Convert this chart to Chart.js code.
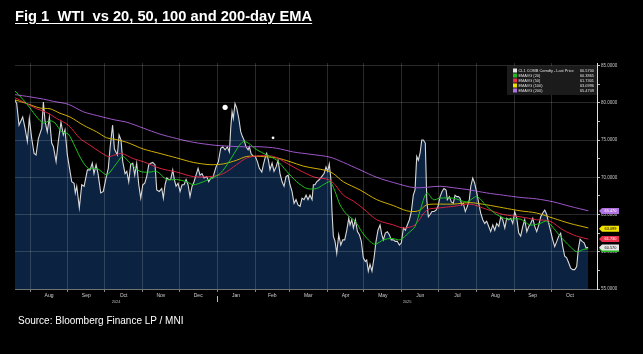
<!DOCTYPE html>
<html>
<head>
<meta charset="utf-8">
<title>WTI vs EMA</title>
<script src="https://cdn.jsdelivr.net/npm/chart.js@4.4.1/dist/chart.umd.min.js"></script>
<style>
  html, body { margin: 0; padding: 0; background: #000; }
  #wrap { position: relative; width: 643px; height: 354px; overflow: hidden; background: #000; }
  #wti { position: absolute; left: 0; top: 0; }
  #title {
    position: absolute; left: 15px; top: 9px; white-space: pre;
    font: bold 14.7px "Liberation Sans", Arial, sans-serif; line-height: 1;
    color: #fff; text-decoration: underline; text-underline-offset: 2px;
  }
  #source {
    position: absolute; left: 18px; top: 316px; white-space: pre;
    font: 10px "Liberation Sans", Arial, sans-serif; line-height: 1; color: #fff;
  }
</style>
</head>
<body>
<div id="wrap">
  <canvas id="wti" width="643" height="354"></canvas>
  <div id="title">Fig 1  WTI  vs 20, 50, 100 and 200-day EMA</div>
  <div id="source">Source: Bloomberg Finance LP / MNI</div>
</div>
<script>
// x values are calendar days counted from 1 Aug 2024
var monthLabels = ['Aug', 'Sep', 'Oct', 'Nov', 'Dec', 'Jan', 'Feb', 'Mar', 'Apr', 'May', 'Jun', 'Jul', 'Aug', 'Sep', 'Oct'];
var yearLabels = ['2024', '2025'];
var yTicks = [55, 57.5, 60, 62.5, 65, 67.5, 70, 72.5, 75, 77.5, 80, 82.5, 85];

var seriesNames = ['CL1 COMB Comdty - Last Price', 'EMAVG (20)', 'EMAVG (50)', 'EMAVG (100)', 'EMAVG (200)'];
var lastValues = ['60.5700', '60.3865', '61.7301', '63.0996', '65.4709'];

var priceDays = [-12.3, -10.9, -9.0, -6.0, -4.1, -2.2, -0.6, 1.4, 3.3, 4.9, 6.8, 9.6, 10.9, 12.3, 14.1, 15.8, 17.7, 19.1, 21.3, 23.1,
  25.3, 27.2, 28.6, 30.5, 32.7, 34.1, 36.0, 37.0, 38.2, 40.3, 42.3, 44.2, 46.9, 49.1, 50.9, 52.3, 54.0, 55.6, 57.8, 59.9,
  62.1, 64.0, 65.4, 67.5, 69.0, 71.4, 72.8, 74.4, 75.8, 77.7, 79.1, 80.7, 82.3, 84.0, 85.6, 87.2, 88.9, 90.5, 92.2, 93.8,
  95.4, 97.1, 98.7, 100.3, 102.2, 103.6, 105.7, 107.7, 109.0, 110.4, 111.8, 113.4, 115.0, 116.7, 118.0, 119.4, 121.0, 122.7, 124.3, 125.9,
  127.6, 129.2, 130.8, 132.5, 134.1, 135.7, 137.4, 139.0, 140.6, 142.3, 144.5, 146.1, 147.8, 149.4, 151.0, 152.1, 154.0, 155.9, 157.6, 159.5,
  161.3, 163.0, 164.1, 165.2, 166.2, 167.6, 169.0, 170.7, 172.3, 173.6, 175.0, 176.6, 178.3, 179.3, 180.7, 182.6, 184.2, 185.9, 187.5, 189.5,
  190.8, 192.2, 193.5, 194.9, 196.2, 197.9, 199.5, 201.2, 202.8, 204.4, 206.1, 207.7, 209.3, 211.0, 212.6, 214.2, 215.9, 217.5, 219.1, 220.8,
  222.4, 224.0, 225.7, 227.3, 228.9, 230.6, 231.7, 233.0, 234.4, 236.6, 238.5, 240.4, 242.0, 243.4, 244.7, 245.9, 246.9, 248.0, 249.4, 250.8,
  252.4, 254.1, 255.7, 257.3, 259.0, 260.6, 261.7, 263.1, 264.4, 266.0, 267.7, 269.3, 270.9, 272.5, 274.2, 275.3, 276.6, 278.0, 279.6, 281.3,
  282.9, 284.5, 286.2, 287.6, 288.9, 290.5, 292.2, 293.8, 295.4, 297.1, 298.7, 300.3, 302.0, 303.6, 305.3, 306.9, 308.5, 310.2, 311.8, 313.4,
  314.8, 316.2, 317.5, 318.9, 320.3, 321.6, 323.2, 324.4, 325.7, 327.1, 328.7, 330.4, 332.0, 333.6, 335.3, 336.9, 338.5, 340.2, 341.2, 342.9,
  344.5, 346.1, 347.5, 348.9, 350.2, 351.6, 353.0, 354.3, 355.9, 357.6, 359.2, 360.4, 362.0, 363.6, 365.3, 366.9, 368.5, 370.2, 371.8, 373.4,
  375.1, 376.7, 378.4, 380.0, 381.6, 383.3, 384.9, 386.5, 388.2, 389.8, 391.4, 393.1, 394.7, 396.3, 398.0, 399.6, 401.2, 402.9, 404.5, 406.2,
  407.8, 409.4, 411.1, 412.7, 414.3, 416.0, 417.6, 419.2, 420.9, 422.5, 424.1, 425.8, 427.4, 429.0, 430.7, 432.3, 433.9, 435.6, 437.2, 438.8,
  440.5, 442.1, 443.8, 445.4, 447.0, 448.3, 449.8, 451.4, 453.1, 454.7, 456.3];
var priceValues = [80.4, 79.9, 77.0, 78.1, 76.6, 74.8, 77.9, 75.2, 73.2, 73.0, 75.2, 76.6, 80.1, 77.5, 76.1, 78.1, 74.6, 74.1, 72.1, 74.8,
  77.4, 75.7, 76.4, 73.0, 70.8, 69.4, 69.2, 67.9, 68.8, 65.9, 69.0, 68.8, 71.0, 71.0, 71.9, 70.5, 71.7, 70.5, 67.9, 68.1,
  69.9, 71.2, 73.9, 77.0, 73.8, 73.0, 75.7, 75.0, 72.1, 70.5, 70.8, 69.4, 71.7, 71.9, 70.3, 71.9, 69.0, 67.2, 69.0, 69.2,
  70.1, 71.7, 71.9, 72.0, 71.7, 68.3, 68.1, 68.5, 67.2, 69.0, 69.9, 69.7, 69.7, 71.0, 69.7, 68.8, 69.2, 68.1, 69.0, 69.0,
  69.7, 69.0, 67.4, 68.8, 69.4, 70.3, 71.2, 70.3, 70.5, 69.9, 70.1, 69.4, 69.9, 69.9, 70.8, 71.4, 72.1, 73.9, 74.1, 73.7,
  74.1, 73.4, 76.6, 78.8, 77.9, 79.9, 79.3, 77.9, 76.1, 75.5, 75.0, 74.1, 73.7, 74.1, 73.2, 72.8, 72.8, 72.1, 71.2, 70.7,
  71.7, 72.6, 73.2, 72.3, 71.0, 71.9, 70.8, 71.4, 72.3, 70.5, 69.4, 68.8, 70.1, 70.3, 69.0, 68.1, 66.5, 67.0, 66.3, 66.1,
  67.2, 67.0, 67.6, 67.0, 67.6, 67.0, 69.0, 69.0, 69.4, 69.7, 70.1, 70.5, 71.4, 70.8, 71.8, 69.9, 65.4, 62.1, 61.4, 59.8,
  62.3, 60.9, 61.6, 61.6, 62.9, 64.5, 63.6, 64.3, 63.2, 64.3, 62.7, 62.3, 61.4, 59.2, 58.7, 58.9, 57.4, 58.3, 57.4, 59.2,
  61.4, 62.9, 63.6, 62.3, 61.6, 62.5, 62.7, 62.3, 61.6, 61.6, 61.4, 61.4, 60.9, 61.2, 63.2, 62.9, 63.6, 64.3, 65.4, 67.6,
  68.3, 72.8, 72.3, 73.2, 75.0, 75.0, 74.6, 67.0, 64.7, 65.0, 65.4, 65.4, 65.6, 66.1, 67.4, 68.1, 68.5, 68.3, 67.0, 67.4,
  66.7, 66.5, 67.6, 67.4, 67.4, 67.2, 66.3, 66.5, 65.4, 66.1, 67.0, 68.8, 69.9, 69.2, 67.9, 66.5, 65.2, 64.3, 63.8, 64.1,
  63.4, 62.7, 63.6, 62.9, 63.8, 63.4, 64.7, 64.3, 63.2, 64.5, 64.3, 64.5, 63.8, 65.4, 64.5, 62.5, 62.1, 63.4, 64.3, 62.7,
  63.4, 63.8, 64.5, 63.4, 62.7, 63.6, 64.7, 65.2, 65.6, 65.0, 63.8, 62.7, 61.6, 60.7, 61.4, 62.1, 62.5, 60.7, 59.4, 59.2,
  58.5, 57.8, 57.6, 57.6, 58.0, 60.3, 61.7, 61.4, 61.2, 60.5, 60.6];

var ema20Days = [-12.3, -5.5, 0, 5.5, 10.9, 16.4, 20.4, 25.9, 31.3, 36.8, 42.3, 47.7, 54.5, 62.7, 65.4, 70.9, 75.8, 81.8, 89.9, 98.1,
  103.6, 111.8, 120.0, 128.1, 133.5, 141.7, 147.2, 155.4, 163.5, 170.3, 174.4, 178.5, 185.4, 193.5, 201.7, 209.9, 218.1, 226.3, 234.4, 239.8,
  245.3, 249.4, 253.5, 259.0, 265.8, 271.2, 276.6, 282.1, 288.9, 295.8, 302.6, 309.3, 314.8, 318.9, 324.4, 329.8, 335.3, 346.1, 357.1, 365.3,
  373.4, 381.6, 389.8, 400.7, 408.9, 417.0, 422.5, 433.4, 441.6, 447.0, 452.4, 456.5];
var ema20Values = [81.6, 80.4, 79.3, 78.1, 77.3, 77.6, 77.3, 76.1, 75.8, 74.1, 72.3, 71.2, 71.2, 70.3, 70.7, 71.9, 72.8, 71.9, 70.8, 70.7,
  70.8, 69.7, 69.7, 69.4, 69.0, 69.4, 69.8, 70.5, 72.3, 74.1, 74.8, 74.6, 73.7, 73.0, 72.3, 70.8, 69.4, 68.5, 68.5, 69.0,
  69.4, 68.1, 66.3, 65.0, 64.1, 62.7, 61.6, 61.0, 61.6, 61.8, 61.6, 62.5, 63.4, 65.5, 67.9, 67.0, 67.2, 67.2, 66.7, 67.4,
  66.1, 65.0, 64.4, 64.4, 63.6, 63.8, 64.1, 62.1, 60.7, 60.0, 60.3, 60.4];

var ema50Days = [-12.3, -2.7, 5.5, 13.7, 21.8, 31.3, 40.9, 49.1, 57.2, 64.0, 69.5, 75.0, 84.5, 92.6, 106.3, 120.0, 133.5, 147.2, 158.1, 169.0,
  177.2, 188.1, 199.0, 209.9, 220.8, 233.0, 243.9, 249.4, 256.2, 264.4, 272.5, 283.5, 297.1, 305.3, 314.8, 324.4, 335.3, 346.1, 359.8, 373.4,
  387.0, 400.7, 414.3, 425.2, 436.1, 447.0, 456.5];
var ema50Values = [80.7, 79.9, 79.2, 78.7, 77.9, 77.0, 75.2, 74.3, 73.4, 72.8, 73.0, 73.2, 72.5, 72.1, 71.2, 70.7, 70.1, 70.1, 70.5, 71.7,
  72.6, 72.9, 72.8, 71.9, 70.9, 70.0, 69.7, 69.0, 67.6, 66.8, 65.8, 64.3, 63.6, 63.2, 63.6, 65.6, 65.9, 66.1, 66.4, 65.7,
  65.0, 64.7, 64.3, 64.1, 62.9, 62.1, 61.7];

var ema100Days = [-12.3, -2.7, 8.2, 16.4, 24.5, 32.7, 43.6, 54.5, 62.7, 69.5, 79.1, 92.6, 106.3, 120.0, 133.5, 147.2, 158.1, 169.0, 177.2, 188.1,
  201.7, 212.6, 223.5, 233.0, 242.6, 248.0, 256.2, 269.8, 283.5, 297.1, 308.0, 314.8, 318.9, 324.4, 335.3, 346.1, 359.8, 373.4, 387.0, 400.7,
  414.3, 427.9, 441.6, 456.5];
var ema100Values = [80.4, 79.9, 79.3, 79.2, 78.6, 78.1, 77.0, 76.1, 75.3, 75.1, 74.7, 73.8, 73.2, 72.6, 72.0, 71.7, 71.8, 72.3, 72.8, 72.8,
  72.6, 72.1, 71.5, 71.2, 70.9, 70.5, 69.4, 68.3, 67.0, 66.2, 65.5, 65.4, 65.6, 66.3, 66.4, 66.4, 66.6, 66.3, 65.9, 65.5,
  65.2, 64.5, 63.8, 63.2];

var ema200Days = [-12.3, 0, 10.9, 19.1, 31.3, 43.6, 54.5, 69.5, 79.1, 92.6, 106.3, 120.0, 133.5, 151.3, 160.8, 174.4, 188.1, 201.7, 215.3, 229.0,
  245.3, 256.2, 269.8, 283.5, 297.1, 314.8, 335.3, 346.1, 359.8, 373.4, 387.0, 400.7, 414.3, 427.9, 441.6, 456.5];
var ema200Values = [81.1, 80.8, 80.5, 80.2, 79.8, 78.8, 78.3, 77.7, 77.4, 76.6, 75.8, 75.2, 74.7, 74.3, 74.2, 74.1, 74.1, 73.9, 73.4, 73.1,
  72.7, 72.0, 71.0, 70.0, 69.3, 68.6, 68.8, 68.6, 68.3, 67.9, 67.6, 67.3, 67.1, 66.7, 66.1, 65.5];

// two white annotation dots on the chart
var markerDays = [159.5, 198.7];
var markerValues = [79.4, 75.3];

var colors = {
  price: '#d9d9d9', fill: '#0b2240',
  ema20: '#1cc21c', ema50: '#d6213f', ema100: '#cfae00', ema200: '#9d55c9'
};
var tagColors = ['#e6e6e6', '#22b922', '#e8304a', '#f2e200', '#b072e0'];
var gridColor = 'rgba(255,255,255,0.16)';
var clear = 'rgba(0,0,0,0)';

var xMin = -12.3, xMax = 463.6;

function dayOf(y, m, d) {
  return (Date.UTC(y, m, d) - Date.UTC(2024, 7, 1)) / 864e5;
}

// month boundaries (grid lines) and mid-month label positions share one axis
var monthStarts = [];
for (var i = 0; i <= monthLabels.length; i++) {
  monthStarts.push(dayOf(2024, 7 + i, 1));
}
var xTicks = [];
for (var i = 0; i < monthLabels.length; i++) {
  xTicks.push({ value: monthStarts[i], label: '' });
  xTicks.push({ value: (monthStarts[i] + monthStarts[i + 1]) / 2, label: monthLabels[i] });
}
var yearStart2025 = dayOf(2025, 0, 1);
var yearMids = [(xMin + yearStart2025) / 2, (yearStart2025 + xMax) / 2];

function points(days, values) {
  return days.map(function (d, i) { return { x: d, y: values[i] }; });
}

function emaSet(label, days, values, color, order) {
  return {
    label: label, data: points(days, values), borderColor: color, borderWidth: 1,
    pointRadius: 0, fill: false, tension: 0.3, order: order
  };
}

function labelFor(v) {
  for (var i = 0; i < xTicks.length; i++) {
    if (Math.abs(xTicks[i].value - v) < 1e-6) return xTicks[i].label;
  }
  return '';
}

function monthLabelAt(c) {
  return c.tick ? labelFor(c.tick.value) : '';
}

var overlay = {
  id: 'overlay',
  afterDraw: function (chart) {
    var c = chart.ctx, ys = chart.scales.y, xs = chart.scales.x, area = chart.chartArea;
    c.save();

    // year divider tick under the axis
    var xj = Math.round(xs.getPixelForValue(yearStart2025)) + 0.5;
    c.strokeStyle = '#bbb';
    c.lineWidth = 1;
    c.beginPath();
    c.moveTo(xj, area.bottom + 7);
    c.lineTo(xj, area.bottom + 13);
    c.stroke();

    // legend box in the top right
    var bx = 507, by = 66, bw = 90, bh = 29;
    c.fillStyle = 'rgba(28,28,28,0.96)';
    c.fillRect(bx, by, bw, bh);
    c.font = '3.9px "Liberation Sans", Arial, sans-serif';
    c.textBaseline = 'middle';
    for (var i = 0; i < seriesNames.length; i++) {
      var ry = by + 4.5 + i * 5;
      c.fillStyle = tagColors[i];
      c.fillRect(bx + 6, ry - 2, 4, 4);
      c.fillStyle = '#e0e0e0';
      c.textAlign = 'left';
      c.fillText(seriesNames[i], bx + 11.5, ry);
      c.textAlign = 'right';
      c.fillText(lastValues[i], bx + bw - 3, ry);
    }

    // value tags on the right axis, green first so it sits underneath
    var tagOrder = [1, 0, 2, 3, 4];
    var textColors = ['#000', '#000', '#fff', '#000', '#fff'];
    c.textAlign = 'center';
    tagOrder.forEach(function (k) {
      var yc = ys.getPixelForValue(parseFloat(lastValues[k]));
      var x0 = area.right + 2;
      c.fillStyle = tagColors[k];
      c.beginPath();
      c.moveTo(x0, yc);
      c.lineTo(x0 + 3, yc - 3);
      c.lineTo(x0 + 20, yc - 3);
      c.lineTo(x0 + 20, yc + 3);
      c.lineTo(x0 + 3, yc + 3);
      c.closePath();
      c.fill();
      c.fillStyle = textColors[k];
      c.fillText(lastValues[k].slice(0, 6), x0 + 11.5, yc + 0.3);
    });
    c.restore();
  }
};

var ctx = document.getElementById('wti').getContext('2d');
var wtiChart = new Chart(ctx, {
  type: 'line',
  data: {
    datasets: [
      {
        label: seriesNames[0], data: points(priceDays, priceValues), borderColor: colors.price,
        borderWidth: 1.1, pointRadius: 0, fill: 'start', backgroundColor: colors.fill, tension: 0, order: 6
      },
      emaSet(seriesNames[1], ema20Days, ema20Values, colors.ema20, 1),
      emaSet(seriesNames[2], ema50Days, ema50Values, colors.ema50, 2),
      emaSet(seriesNames[3], ema100Days, ema100Values, colors.ema100, 3),
      emaSet(seriesNames[4], ema200Days, ema200Values, colors.ema200, 4),
      {
        label: 'markers', data: points(markerDays, markerValues), showLine: false,
        pointRadius: [2.6, 1.4], pointBackgroundColor: '#fff', pointBorderWidth: 0, order: 0
      }
    ]
  },
  options: {
    responsive: false,
    animation: false,
    layout: { padding: { left: 15, top: 63, right: 0, bottom: 0 } },
    plugins: { legend: { display: false }, tooltip: { enabled: false } },
    scales: {
      x: {
        type: 'linear', position: 'bottom', min: xMin, max: xMax,
        afterBuildTicks: function (scale) {
          scale.ticks = xTicks.filter(function (t) { return t.value > xMin && t.value < xMax; })
            .map(function (t) { return { value: t.value }; });
        },
        afterFit: function (scale) { scale.height = 10; },
        grid: {
          z: 1, drawTicks: true, tickLength: 3,
          color: function (c) { return monthLabelAt(c) === '' ? gridColor : clear; },
          tickColor: function (c) { return monthLabelAt(c) === '' ? '#888' : clear; }
        },
        // border drawn after the grid layer so its position is already known
        border: { color: 'rgba(255,255,255,0.35)', z: 2 },
        ticks: {
          autoSkip: false, maxRotation: 0, padding: 1, color: '#cfcfcf',
          font: { family: '"Liberation Sans", Arial, sans-serif', size: 5 },
          callback: function (v) { return labelFor(v); }
        }
      },
      x3: {
        type: 'linear', position: 'bottom', min: xMin, max: xMax,
        afterBuildTicks: function (scale) {
          scale.ticks = yearMids.map(function (d) { return { value: d }; });
        },
        afterFit: function (scale) { scale.height = 55; },
        grid: { display: false, drawTicks: false },
        border: { display: false },
        ticks: {
          autoSkip: false, maxRotation: 0, padding: 0, color: '#bbb',
          font: { family: '"Liberation Sans", Arial, sans-serif', size: 4 },
          callback: function (v, i) { return yearLabels[i]; }
        }
      },
      y: {
        type: 'linear', position: 'right', min: 55, max: 85.35,
        afterBuildTicks: function (scale) {
          scale.ticks = yTicks.map(function (v) { return { value: v }; });
        },
        afterFit: function (scale) { scale.width = 46; },
        grid: {
          z: 1, tickLength: 3, tickColor: '#bbb',
          color: function (c) { return c.tick && c.tick.value % 5 === 0 ? gridColor : clear; }
        },
        border: { color: '#e0e0e0', width: 1, z: 2 },
        ticks: {
          padding: 1, color: '#c8c8c8',
          font: { family: '"Liberation Sans", Arial, sans-serif', size: 4.5 },
          callback: function (v) { return v % 5 === 0 ? v.toFixed(4) : ''; }
        }
      }
    }
  },
  plugins: [overlay]
});
</script>
</body>
</html>
